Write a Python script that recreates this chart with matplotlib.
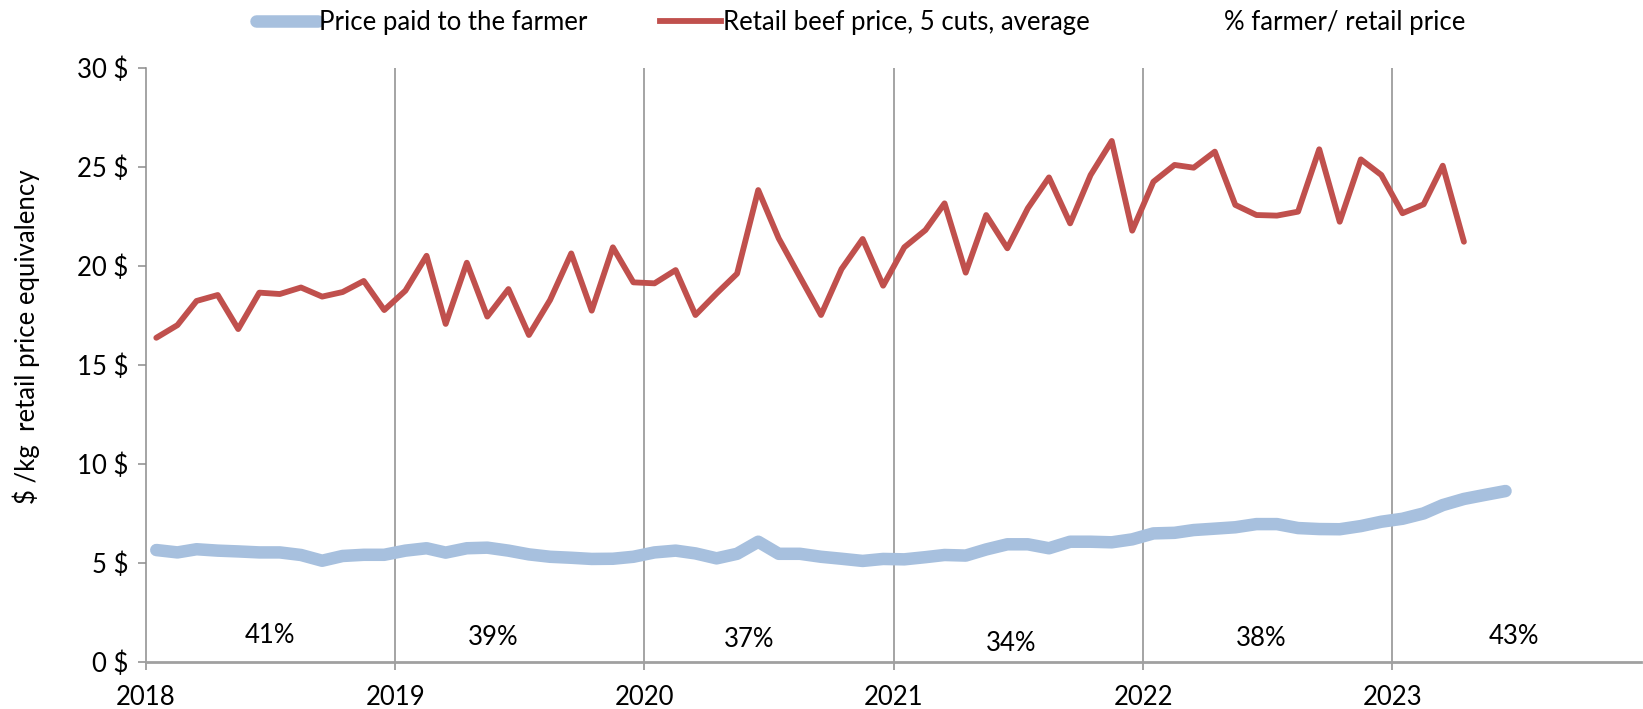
import matplotlib
matplotlib.use("Agg")
import matplotlib.pyplot as plt
import pandas as pd
from matplotlib.lines import Line2D

plt.rcParams['font.family'] = ['Lato', 'DejaVu Sans']

# ---------------- data ----------------
farmer_price = [5.64, 5.52, 5.68, 5.61, 5.57, 5.52, 5.52, 5.39, 5.10, 5.34, 5.40, 5.40,
                5.61, 5.73, 5.51, 5.73, 5.76, 5.61, 5.42, 5.30, 5.25, 5.19, 5.20, 5.30,
                5.52, 5.61, 5.47, 5.22, 5.45, 6.06, 5.45, 5.45, 5.30, 5.20, 5.09, 5.19,
                5.17, 5.28, 5.39, 5.36, 5.67, 5.93, 5.93, 5.73, 6.06, 6.06, 6.03, 6.18,
                6.48, 6.51, 6.65, 6.72, 6.79, 6.95, 6.95, 6.75, 6.70, 6.69, 6.85, 7.07,
                7.22, 7.49, 7.91, 8.22, 8.42, 8.62]

retail_price = [16.36, 17.00, 18.22, 18.52, 16.80, 18.64, 18.57, 18.90, 18.44, 18.67, 19.23, 17.76,
                18.74, 20.50, 17.06, 20.15, 17.43, 18.82, 16.50, 18.27, 20.62, 17.73, 20.93, 19.16,
                19.11, 19.78, 17.51, 18.60, 19.60, 23.82, 21.38, 19.44, 17.51, 19.83, 21.35, 18.99,
                20.93, 21.80, 23.15, 19.65, 22.56, 20.88, 22.90, 24.46, 22.14, 24.58, 26.30, 21.77,
                24.24, 25.09, 24.95, 25.76, 23.07, 22.56, 22.53, 22.73, 25.88, 22.22, 25.37, 24.58,
                22.65, 23.10, 25.05, 21.21]

pct_labels = ["41%", "39%", "37%", "34%", "38%", "43%"]
pct_label_dates = ["2018-07-01", "2019-05-25", "2020-06-03", "2021-06-22", "2022-06-23", "2023-06-28"]
pct_label_heights = [1.30, 1.20, 1.10, 0.94, 1.15, 1.25]

year_ticks = ["2018", "2019", "2020", "2021", "2022", "2023"]
y_ticks = [0, 5, 10, 15, 20, 25, 30]

farmer_dates = pd.date_range("2018-01-01", periods=len(farmer_price), freq="MS") + pd.Timedelta(days=15)
retail_dates = pd.date_range("2018-01-01", periods=len(retail_price), freq="MS") + pd.Timedelta(days=15)

# ---------------- figure ----------------
fig = plt.figure(figsize=(16.43, 7.09), dpi=100)
ax = fig.add_axes([0.0889, 0.0667, 0.9101, 0.8378])

BLUE = "#A7C0DE"
RED = "#C0504D"
GRID = "#8C8C8C"
FS = 18.5

ax.plot(farmer_dates, farmer_price, color=BLUE, lw=9.0, solid_capstyle='round',
        solid_joinstyle='round', zorder=3)
ax.plot(retail_dates, retail_price, color=RED, lw=4.2, solid_capstyle='round',
        solid_joinstyle='round', zorder=4)

for lab, d, h in zip(pct_labels, pct_label_dates, pct_label_heights):
    ax.text(pd.Timestamp(d), h, lab, ha='center', va='center', fontsize=FS, color='black', zorder=5)

ax.set_xlim(pd.Timestamp("2018-01-01"), pd.Timestamp("2024-01-01"))
ax.set_ylim(0, 30)

tick_dates = [pd.Timestamp(f"{y}-01-01") for y in year_ticks]
ax.set_xticks(tick_dates)
ax.set_xticklabels(year_ticks)
ax.set_yticks(y_ticks)
ax.set_yticklabels([f"{v} $" for v in y_ticks])

for d in tick_dates[1:]:
    ax.axvline(d, color=GRID, lw=1.1, zorder=1)

for s in ['top', 'right']:
    ax.spines[s].set_visible(False)
ax.spines['left'].set_color(GRID)
ax.spines['left'].set_linewidth(1.1)
ax.spines['bottom'].set_color("#A0A0A0")
ax.spines['bottom'].set_linewidth(2.0)

ax.tick_params(axis='y', direction='out', length=6, width=1.1, color=GRID, labelsize=FS, pad=7)
ax.tick_params(axis='x', direction='out', length=6, width=1.1, color=GRID, labelsize=FS, pad=11)

fig.text(0.016, 1 - 337 / 709, "$ /kg  retail price equivalency", rotation=90,
         ha='center', va='center', fontsize=FS)

handles = [Line2D([], [], color=BLUE, lw=9.0, solid_capstyle='round'),
           Line2D([], [], color=RED, lw=4.2),
           Line2D([], [], color='none', lw=4.2)]
labels = ["Price paid to the farmer", "Retail beef price, 5 cuts, average", "% farmer/ retail price"]
fig.legend(handles, labels, loc='center', bbox_to_anchor=(0.524, 0.968), ncol=3, frameon=False,
           fontsize=FS, handlelength=2.4, handletextpad=0.05, columnspacing=2.8)

fig.savefig("out.png", dpi=100)
